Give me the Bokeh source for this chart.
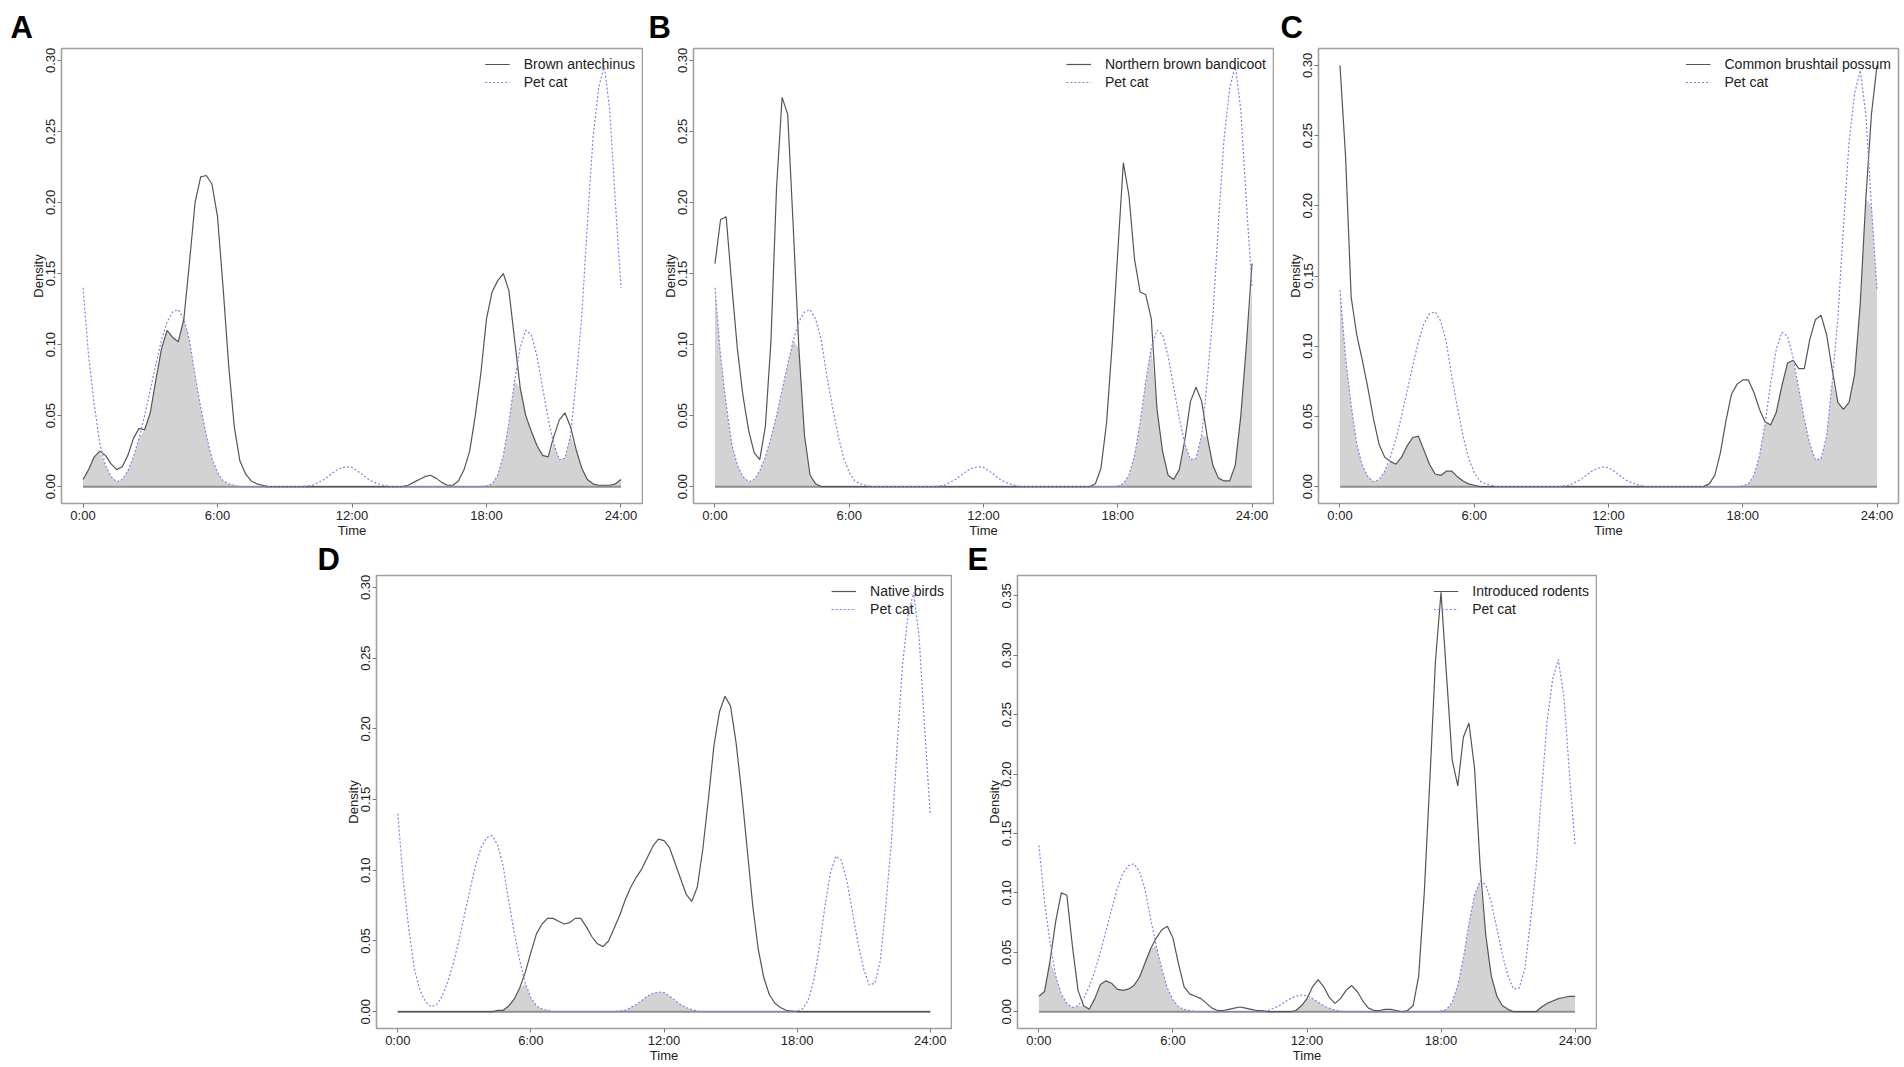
from bokeh.plotting import figure
from bokeh.layouts import column, row
from bokeh.models import (Range1d, FixedTicker, Legend, LegendItem, Title,
                          NumeralTickFormatter)
from bokeh.embed import file_html
from bokeh.resources import INLINE

# ---------------- data (time of day in hours, kernel density) ----------------
hours = [i * 0.25 for i in range(97)]  # 0:00 .. 24:00 every 15 min

cat_density = [
    0.140, 0.092, 0.058, 0.030,
    0.015, 0.007, 0.0035, 0.005,
    0.011, 0.021, 0.034, 0.050,
    0.068, 0.086, 0.103, 0.116,
    0.123, 0.1245, 0.118, 0.103,
    0.078, 0.056, 0.036, 0.020,
    0.010, 0.004, 0.002, 0.001,
    0.0, 0.0, 0.0, 0.0,
    0.0, 0.0, 0.0, 0.0,
    0.0, 0.0, 0.0, 0.0,
    0.0005, 0.001, 0.003, 0.005,
    0.008, 0.011, 0.013, 0.014,
    0.0135, 0.011, 0.008, 0.005,
    0.003, 0.0015, 0.0005, 0.0,
    0.0, 0.0, 0.0, 0.0,
    0.0, 0.0, 0.0, 0.0,
    0.0, 0.0, 0.0, 0.0,
    0.0, 0.0, 0.0, 0.0,
    0.0005, 0.002, 0.008, 0.022,
    0.045, 0.074, 0.098, 0.110,
    0.107, 0.092, 0.070, 0.048,
    0.030, 0.019, 0.020, 0.036,
    0.075, 0.120, 0.185, 0.245,
    0.280, 0.2965, 0.265, 0.200,
    0.140,
]

antechinus = [
    0.005, 0.012, 0.021, 0.025,
    0.022, 0.016, 0.012, 0.014,
    0.022, 0.034, 0.041, 0.040,
    0.052, 0.075, 0.097, 0.110,
    0.105, 0.102, 0.118, 0.158,
    0.200, 0.218, 0.219, 0.213,
    0.190, 0.140, 0.085, 0.042,
    0.018, 0.009, 0.004, 0.002,
    0.001, 0.0, 0.0, 0.0,
    0.0, 0.0, 0.0, 0.0,
    0.0, 0.0, 0.0, 0.0,
    0.0, 0.0, 0.0, 0.0,
    0.0, 0.0, 0.0, 0.0,
    0.0, 0.0, 0.0, 0.0,
    0.0, 0.0, 0.001, 0.003,
    0.005, 0.007, 0.008, 0.006,
    0.003, 0.001, 0.001, 0.004,
    0.012, 0.025, 0.050, 0.080,
    0.118, 0.137, 0.145, 0.150,
    0.138, 0.104, 0.070, 0.050,
    0.039, 0.029, 0.022, 0.021,
    0.035, 0.047, 0.052, 0.042,
    0.026, 0.013, 0.005, 0.002,
    0.001, 0.001, 0.001, 0.002,
    0.005,
]

bandicoot = [
    0.157, 0.188, 0.190, 0.142,
    0.097, 0.064, 0.040, 0.024,
    0.019, 0.042, 0.102, 0.210,
    0.274, 0.262, 0.182, 0.097,
    0.036, 0.008, 0.002, 0.0,
    0.0, 0.0, 0.0, 0.0,
    0.0, 0.0, 0.0, 0.0,
    0.0, 0.0, 0.0, 0.0,
    0.0, 0.0, 0.0, 0.0,
    0.0, 0.0, 0.0, 0.0,
    0.0, 0.0, 0.0, 0.0,
    0.0, 0.0, 0.0, 0.0,
    0.0, 0.0, 0.0, 0.0,
    0.0, 0.0, 0.0, 0.0,
    0.0, 0.0, 0.0, 0.0,
    0.0, 0.0, 0.0, 0.0,
    0.0, 0.0, 0.0, 0.0,
    0.002, 0.013, 0.045, 0.100,
    0.165, 0.228, 0.205, 0.160,
    0.137, 0.135, 0.118, 0.055,
    0.025, 0.008, 0.005, 0.012,
    0.033, 0.060, 0.070, 0.060,
    0.035, 0.015, 0.006, 0.004,
    0.004, 0.015, 0.050, 0.100,
    0.157,
]

possum = [
    0.300, 0.235, 0.135, 0.108,
    0.090, 0.070, 0.048, 0.030,
    0.021, 0.018, 0.016, 0.021,
    0.029, 0.035, 0.036, 0.026,
    0.016, 0.009, 0.008, 0.011,
    0.011, 0.007, 0.004, 0.002,
    0.001, 0.0, 0.0, 0.0,
    0.0, 0.0, 0.0, 0.0,
    0.0, 0.0, 0.0, 0.0,
    0.0, 0.0, 0.0, 0.0,
    0.0, 0.0, 0.0, 0.0,
    0.0, 0.0, 0.0, 0.0,
    0.0, 0.0, 0.0, 0.0,
    0.0, 0.0, 0.0, 0.0,
    0.0, 0.0, 0.0, 0.0,
    0.0, 0.0, 0.0, 0.0,
    0.0, 0.0, 0.002, 0.008,
    0.024, 0.047, 0.066, 0.073,
    0.076, 0.076, 0.067, 0.055,
    0.046, 0.044, 0.053, 0.072,
    0.088, 0.090, 0.084, 0.084,
    0.105, 0.119, 0.122, 0.108,
    0.083, 0.060, 0.055, 0.060,
    0.080, 0.130, 0.205, 0.265,
    0.300,
]

native_birds = [
    0.0, 0.0, 0.0, 0.0,
    0.0, 0.0, 0.0, 0.0,
    0.0, 0.0, 0.0, 0.0,
    0.0, 0.0, 0.0, 0.0,
    0.0, 0.0, 0.001, 0.001,
    0.004, 0.009, 0.017, 0.028,
    0.042, 0.055, 0.062, 0.066,
    0.066, 0.064, 0.062, 0.063,
    0.066, 0.066, 0.060, 0.053,
    0.048, 0.046, 0.050, 0.059,
    0.068, 0.079, 0.088, 0.095,
    0.101, 0.109, 0.117, 0.122,
    0.121, 0.116, 0.105, 0.094,
    0.083, 0.078, 0.088, 0.115,
    0.150, 0.188, 0.212, 0.223,
    0.216, 0.190, 0.155, 0.115,
    0.075, 0.044, 0.024, 0.012,
    0.006, 0.003, 0.001, 0.0005,
    0.0, 0.0, 0.0, 0.0,
    0.0, 0.0, 0.0, 0.0,
    0.0, 0.0, 0.0, 0.0,
    0.0, 0.0, 0.0, 0.0,
    0.0, 0.0, 0.0, 0.0,
    0.0, 0.0, 0.0, 0.0,
    0.0,
]

rodents = [
    0.013, 0.017, 0.043, 0.076,
    0.100, 0.098, 0.055, 0.018,
    0.005, 0.002, 0.011, 0.023,
    0.026, 0.024, 0.019, 0.018,
    0.019, 0.022, 0.029, 0.041,
    0.053, 0.062, 0.069, 0.072,
    0.062, 0.040, 0.021, 0.015,
    0.013, 0.011, 0.007, 0.003,
    0.001, 0.001, 0.002, 0.003,
    0.004, 0.003, 0.002, 0.001,
    0.001, 0.0, 0.0, 0.0,
    0.0, 0.0, 0.001, 0.005,
    0.011, 0.021, 0.027, 0.021,
    0.012, 0.007, 0.011, 0.018,
    0.022, 0.017, 0.009, 0.003,
    0.001, 0.001, 0.002, 0.002,
    0.001, 0.0, 0.001, 0.005,
    0.030, 0.100, 0.195, 0.295,
    0.353, 0.282, 0.212, 0.190,
    0.231, 0.243, 0.205, 0.123,
    0.065, 0.030, 0.013, 0.005,
    0.002, 0.0, 0.0, 0.0,
    0.0, 0.0, 0.004, 0.007,
    0.009, 0.011, 0.012, 0.013,
    0.013,
]

x_ticks = [0, 6, 12, 18, 24]
x_tick_labels = ["0:00", "6:00", "12:00", "18:00", "24:00"]

panel_letters = ["A", "B", "C", "D", "E"]
species_names = ["Brown antechinus", "Northern brown bandicoot",
                 "Common brushtail possum", "Native birds", "Introduced rodents"]
species_series = [antechinus, bandicoot, possum, native_birds, rodents]
cat_name = "Pet cat"

# ---------------- styling ----------------
FONT = "Liberation Sans"
SPECIES_COLOR = "#555555"
CAT_COLOR = "#8080f0"
OVERLAP_COLOR = "#d3d3d3"
ZERO_COLOR = "#8f8f8f"
FRAME_COLOR = "#a0a0a0"
TEXT_COLOR = "#222222"


def make_panel(letter, name, dens, width, height, bl, br, bt, bb,
               letter_dx, letter_standoff):
    overlap = [min(a, b) for a, b in zip(dens, cat_density)]
    baseline = [0.0 for _ in hours]
    ymax = max(max(dens), max(cat_density))
    xspan = hours[-1] - hours[0]
    p = figure(width=width, height=height, output_backend="svg", toolbar_location=None,
               x_range=Range1d(hours[0] - 0.04 * xspan, hours[-1] + 0.04 * xspan),
               y_range=Range1d(-0.04 * ymax, 1.04 * ymax),
               min_border_left=bl, min_border_right=br,
               min_border_top=bt, min_border_bottom=bb,
               background_fill_color="white", border_fill_color="white")
    p.outline_line_color = FRAME_COLOR
    p.outline_line_width = 1.6
    p.xgrid.visible = False
    p.ygrid.visible = False

    p.varea(x=hours, y1=baseline, y2=overlap, fill_color=OVERLAP_COLOR, fill_alpha=1.0)
    p.line(hours, baseline, line_color=ZERO_COLOR, line_width=2)
    r_sp = p.line(hours, dens, line_color=SPECIES_COLOR, line_width=1.2)
    r_cat = p.line(hours, cat_density, line_color=CAT_COLOR, line_width=1.2,
                   line_dash="2 2")

    # axes
    for ax in (p.xaxis[0], p.yaxis[0]):
        ax.axis_line_color = None
        ax.major_tick_line_color = "#777777"
        ax.major_tick_in = 0
        ax.major_tick_out = 4
        ax.minor_tick_line_color = None
        ax.major_label_text_font = FONT
        ax.major_label_text_color = TEXT_COLOR
        ax.axis_label_text_font = FONT
        ax.axis_label_text_font_style = "normal"
        ax.axis_label_text_color = TEXT_COLOR

    xa = p.xaxis[0]
    xa.ticker = FixedTicker(ticks=x_ticks)
    xa.major_label_overrides = {t: lab for t, lab in zip(x_ticks, x_tick_labels)}
    xa.major_label_text_font_size = "13px"
    xa.major_label_standoff = 0
    xa.axis_label = "Time"
    xa.axis_label_text_font_size = "13px"
    xa.axis_label_standoff = -3

    ya = p.yaxis[0]
    n_ticks = int(1.04 * ymax / 0.05 + 1e-9)
    ya.ticker = FixedTicker(ticks=[round(0.05 * i, 2) for i in range(n_ticks + 1)])
    ya.formatter = NumeralTickFormatter(format="0.00")
    ya.major_label_orientation = "vertical"
    ya.major_label_text_font_size = "13px"
    ya.major_label_standoff = 2
    ya.axis_label = "Density"
    ya.axis_label_text_font_size = "13px"
    ya.axis_label_standoff = -2

    legend = Legend(items=[LegendItem(label=name, renderers=[r_sp]),
                           LegendItem(label=cat_name, renderers=[r_cat])],
                    location="top_right", border_line_color=None,
                    background_fill_alpha=0.0, label_text_font=FONT,
                    label_text_font_size="14px", label_text_color=TEXT_COLOR,
                    glyph_width=25, glyph_height=18, label_height=18,
                    spacing=0, padding=4, margin=7, label_standoff=14)
    p.add_layout(legend)

    p.title = Title(text=letter, align="left", offset=letter_dx,
                    standoff=letter_standoff, text_font=FONT,
                    text_font_size="31px", text_font_style="bold",
                    text_color="black")
    return p


# panel geometry:
# (width, height, border_left, border_right, border_top, border_bottom,
#  letter offset, letter standoff)
geom = [
    (643, 540, 61, 1, 48, 31, -51, 7),
    (631, 540, 50, 1, 48, 31, -45, 7),
    (626, 540, 44, 2, 48, 31, -38, 7),
    (952, 525, 376, 1, 35, 30, -59, -2),
    (645, 525, 65, 1, 35, 30, -50, -2),
]

panels = []
for letter, name, dens, g in zip(panel_letters, species_names, species_series, geom):
    panels.append(make_panel(letter, name, dens, *g))

layout = column(row(panels[0], panels[1], panels[2]), row(panels[3], panels[4]))

open("out.html", "w").write(file_html(layout, INLINE, title="Activity overlap"))
